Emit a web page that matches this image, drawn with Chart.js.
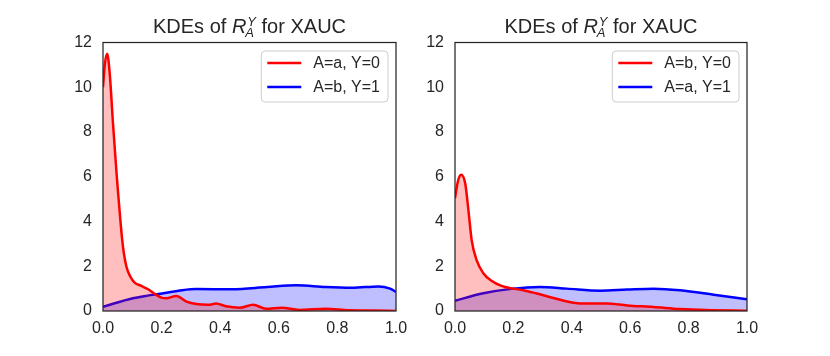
<!DOCTYPE html>
<html>
<head>
<meta charset="utf-8">
<script src="https://cdn.jsdelivr.net/npm/chart.js@4"></script>
<style>
body { margin: 0; background: #fff; }
#wrap { position: relative; width: 830px; height: 356px; }
canvas { position: absolute; top: 0; }
</style>
</head>
<body>
<div id="wrap">
  <canvas id="left" width="416" height="356" style="left:0;width:416px;height:356px"></canvas>
  <canvas id="right" width="414" height="356" style="left:416px;width:414px;height:356px"></canvas>
</div>
<script>
// values
var xTickLabels = ["0.0", "0.2", "0.4", "0.6", "0.8", "1.0"];
var yTickLabels = ["0", "2", "4", "6", "8", "10", "12"];

var leftRedX = [0, 0.007, 0.014, 0.023, 0.034, 0.046, 0.052, 0.059, 0.065, 0.071, 0.08, 0.093, 0.108, 0.131, 0.154, 0.177, 0.199, 0.216, 0.25, 0.285, 0.319, 0.36, 0.386, 0.42, 0.467, 0.512, 0.557, 0.61, 0.67, 0.76, 0.84, 0.92, 1.0];
var leftRedY = [10.0, 11.1, 11.5, 10.6, 8.4, 6.2, 5.2, 4.1, 3.25, 2.6, 1.98, 1.54, 1.27, 1.12, 0.97, 0.76, 0.6, 0.57, 0.67, 0.42, 0.31, 0.28, 0.33, 0.21, 0.15, 0.28, 0.1, 0.15, 0.05, 0.1, 0.03, 0.02, 0];
var leftBlueX = [0, 0.102, 0.216, 0.27, 0.319, 0.44, 0.56, 0.66, 0.76, 0.85, 0.94, 0.98, 1.0];
var leftBlueY = [0.19, 0.57, 0.82, 0.93, 0.98, 0.97, 1.07, 1.15, 1.07, 1.04, 1.1, 1.0, 0.85];

var rightRedX = [0, 0.01, 0.021, 0.035, 0.046, 0.057, 0.074, 0.097, 0.125, 0.159, 0.199, 0.234, 0.28, 0.337, 0.406, 0.45, 0.52, 0.59, 0.68, 0.77, 0.86, 1.0];
var rightRedY = [5.04, 5.8, 6.09, 5.7, 4.5, 3.17, 2.27, 1.69, 1.35, 1.12, 1.0, 0.93, 0.78, 0.58, 0.37, 0.33, 0.34, 0.25, 0.18, 0.09, 0.04, 0.01];
var rightBlueX = [0, 0.097, 0.2, 0.29, 0.383, 0.497, 0.589, 0.68, 0.771, 0.886, 1.0];
var rightBlueY = [0.46, 0.79, 1.0, 1.07, 1.0, 0.91, 0.96, 1.0, 0.93, 0.73, 0.52];

var fam = "'Liberation Sans', Arial, sans-serif";
var ink = "#262626";
Chart.defaults.font.family = fam;
Chart.defaults.font.size = 16;
Chart.defaults.color = ink;

function pts(xs, ys) {
    return xs.map(function (x, i) { return { x: x, y: ys[i] }; });
}

// frame, legend box and the mathtext title
var decorPlugin = {
    id: "decor",
    afterDraw: function (chart) {
        var ctx = chart.ctx, a = chart.chartArea;
        ctx.save();

        ctx.strokeStyle = ink;
        ctx.lineWidth = 1.25;
        ctx.strokeRect(a.left, a.top, a.right - a.left, a.bottom - a.top);

        // legend
        var items = chart.data.datasets;
        ctx.font = "16px " + fam;
        var tw = Math.max.apply(null, items.map(function (d) { return ctx.measureText(d.label).width; }));
        var w = 6 + 34 + 12 + tw + 8, h = 51;
        var x0 = a.right - 8 - w, y0 = a.top + 8.5;
        ctx.beginPath();
        ctx.roundRect(x0, y0, w, h, 4);
        ctx.fillStyle = "rgba(255,255,255,0.8)";
        ctx.fill();
        ctx.strokeStyle = "#cccccc";
        ctx.lineWidth = 1;
        ctx.stroke();
        items.forEach(function (d, i) {
            var y = y0 + 12 + i * 24;
            ctx.beginPath();
            ctx.moveTo(x0 + 6, y);
            ctx.lineTo(x0 + 40, y);
            ctx.strokeStyle = d.borderColor;
            ctx.lineWidth = 2.5;
            ctx.stroke();
            ctx.fillStyle = ink;
            ctx.textBaseline = "middle";
            ctx.textAlign = "left";
            ctx.fillText(d.label, x0 + 52, y + 1);
        });

        // title: KDEs of R_A^Y for XAUC
        var size = 20, small = 13, base = 33;
        var fN = size + "px " + fam, fI = "italic " + size + "px " + fam, fS = "italic " + small + "px " + fam;
        ctx.font = fN;
        var w1 = ctx.measureText("KDEs of ").width;
        var w3 = ctx.measureText(" for XAUC").width;
        ctx.font = fI;
        var wR = ctx.measureText("R").width;
        ctx.font = fS;
        var wS = Math.max(ctx.measureText("Y").width, ctx.measureText("A").width) + 1;
        var total = w1 + wR + wS + w3;
        var x = (a.left + a.right) / 2 - total / 2;
        ctx.fillStyle = ink;
        ctx.textBaseline = "alphabetic";
        ctx.textAlign = "left";
        ctx.font = fN;
        ctx.fillText("KDEs of ", x, base);
        x += w1;
        ctx.font = fI;
        ctx.fillText("R", x, base);
        x += wR;
        ctx.font = fS;
        ctx.fillText("Y", x + 1, base - 7);
        ctx.fillText("A", x - 1, base + 4);
        x += wS;
        ctx.font = fN;
        ctx.fillText(" for XAUC", x, base);

        ctx.restore();
    }
};

function makeChart(id, redLabel, redPts, blueLabel, bluePts, yWidth, padRight) {
    return new Chart(id, {
        type: "line",
        data: {
            datasets: [{
                label: redLabel,
                data: redPts,
                borderColor: "#ff0000",
                backgroundColor: "rgba(255,0,0,0.25)",
                borderWidth: 2.5,
                pointRadius: 0,
                fill: "origin",
                cubicInterpolationMode: "monotone"
            }, {
                label: blueLabel,
                data: bluePts,
                borderColor: "#0000ff",
                backgroundColor: "rgba(0,0,255,0.25)",
                borderWidth: 2.5,
                pointRadius: 0,
                fill: "origin",
                cubicInterpolationMode: "monotone"
            }]
        },
        options: {
            responsive: false,
            animation: false,
            layout: { padding: { left: 0, right: padRight, top: 42.5, bottom: 0 } },
            plugins: {
                legend: { display: false },
                title: { display: false },
                tooltip: { enabled: false }
            },
            scales: {
                x: {
                    type: "linear",
                    min: 0,
                    max: 1,
                    grid: { display: false, drawTicks: false },
                    border: { display: false },
                    ticks: {
                        stepSize: 0.2,
                        padding: 8,
                        maxRotation: 0,
                        callback: function (v) { return xTickLabels[Math.round(v / 0.2)]; }
                    },
                    afterFit: function (s) { s.height = 45; }
                },
                y: {
                    min: 0,
                    max: 12,
                    grid: { display: false, drawTicks: false },
                    border: { display: false },
                    ticks: {
                        stepSize: 2,
                        padding: 11,
                        callback: function (v) { return yTickLabels[Math.round(v / 2)]; }
                    },
                    afterFit: function (s) { s.width = yWidth; }
                }
            }
        },
        plugins: [decorPlugin]
    });
}

makeChart("left", "A=a, Y=0", pts(leftRedX, leftRedY), "A=b, Y=1", pts(leftBlueX, leftBlueY), 103, 20);
makeChart("right", "A=b, Y=0", pts(rightRedX, rightRedY), "A=a, Y=1", pts(rightBlueX, rightBlueY), 39, 83);
</script>
</body>
</html>
